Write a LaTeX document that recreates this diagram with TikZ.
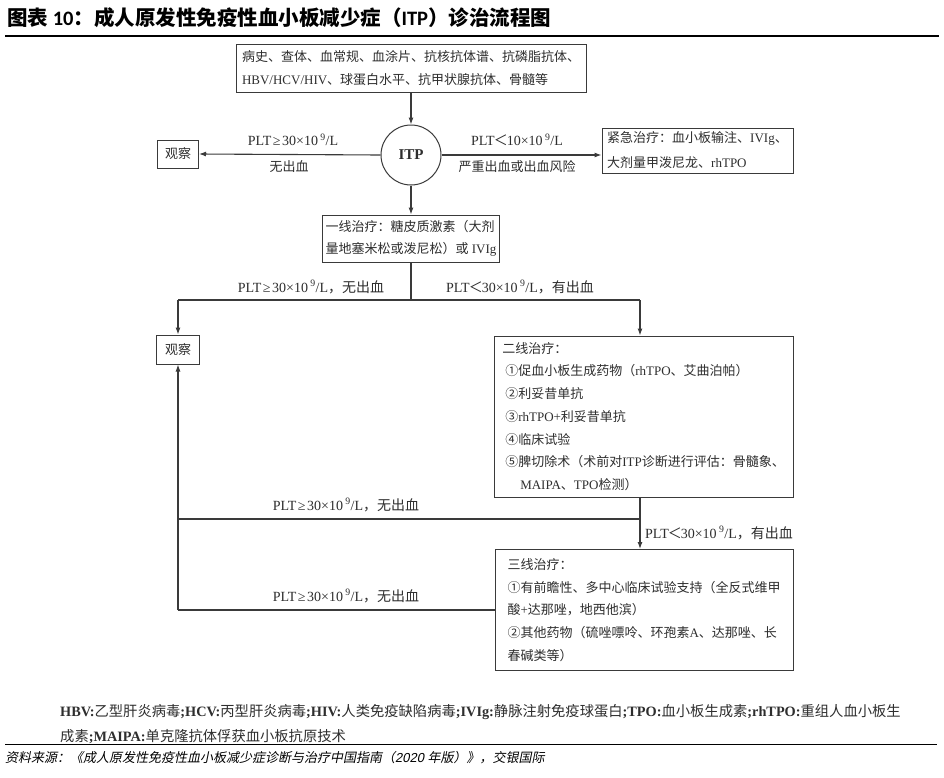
\documentclass[tikz,border=0pt]{standalone}
\usepackage{fontspec}
\usetikzlibrary{arrows.meta}
\setmainfont{Liberation Serif}
\newfontfamily\zhfont{Noto Sans CJK SC}
\newfontfamily\zhslfont[FakeSlant=0.2]{Noto Sans CJK SC}
\newfontfamily\enslfont[FakeSlant=0.2]{Liberation Sans}
\newfontfamily\carlito{Carlito}
% automatic switching between Latin and CJK fonts
\newXeTeXintercharclass\cjkcls
\newcount\chcnt
\def\setcjkrange#1#2{\chcnt=#1\relax\loop\XeTeXcharclass\chcnt=\cjkcls\relax\ifnum\chcnt<#2\relax\advance\chcnt by 1\repeat}
\setcjkrange{"4E00}{"9FFF}
\setcjkrange{"3000}{"303F}
\setcjkrange{"FF00}{"FFEF}
\setcjkrange{"2460}{"24FF}
\def\zhsw{\zhfont}
\def\ensw{\rmfamily}
\XeTeXinterchartoks 0 \cjkcls = {\zhsw}
\XeTeXinterchartoks 4095 \cjkcls = {\zhsw}
\XeTeXinterchartoks \cjkcls 0 = {\ensw}
\XeTeXinterchartoks \cjkcls 4095 = {\ensw}
\XeTeXinterchartokenstate=1
\definecolor{linec}{HTML}{3A3A3A}
\definecolor{txtc}{HTML}{2E2E2E}
\newcommand\mygeq{\hspace{1.5pt}≥\hspace{1.5pt}}
\newcommand\mylt{\hspace{-1pt}＜\hspace{-1pt}}
\tikzset{
  box/.style={draw=linec, line width=1pt, inner sep=0pt, align=left,
    font=\fontsize{13}{22.7}\selectfont, text=txtc},
  lbl/.style={inner sep=0pt, font=\fontsize{14}{16}\selectfont, text=txtc},
  arr/.style={draw=linec, line width=1.1pt, -{Latex[length=7pt,width=5pt]}},
  ln/.style={draw=linec, line width=1.1pt},
}
\begin{document}
\begin{tikzpicture}[x=1pt,y=-1pt]
\useasboundingbox[fill=white] (0,0) rectangle (944,777);
% title
\node[anchor=west, inner sep=0pt, text=black] (title) at (7,18)
  {\fontsize{20.5}{24}\selectfont\bfseries\def\ensw{\carlito}图表 10：成人原发性免疫性血小板减少症（ITP）诊治流程图};
\coordinate (r1a) at (5,36); \coordinate (r1b) at (939,36);
\draw[line width=1.5pt] (r1a) -- (r1b);

% nodes
\node[box, minimum width=350, minimum height=48] (top) at (411,68)
  {病史、查体、血常规、血涂片、抗核抗体谱、抗磷脂抗体、\\HBV/HCV/HIV、球蛋白水平、抗甲状腺抗体、骨髓等};
\node[circle, draw=linec, line width=1pt, minimum size=60pt, inner sep=0pt,
  font=\fontsize{15}{16}\selectfont\bfseries, text=txtc] (itp) at (411,155) {ITP};
\node[box, minimum width=41, minimum height=28] (obs1) at (178,154) {观察};
\node[box, minimum width=191, minimum height=45, font=\fontsize{13}{25}\selectfont] (emg) at (697.5,150.5)
  {紧急治疗：血小板输注、IVIg、\\大剂量甲泼尼龙、rhTPO};
\node[box, minimum width=177, minimum height=47, font=\fontsize{13}{22}\selectfont] (first) at (411,238.5)
  {一线治疗：糖皮质激素（大剂\\量地塞米松或泼尼松）或 IVIg};
\node[box, minimum width=43, minimum height=29] (obs2) at (178,349.5) {观察};
\node[box, minimum width=299, minimum height=161] (second) at (643.5,416.5)
  {二线治疗：\\
   \hspace*{3pt}①促血小板生成药物（rhTPO、艾曲泊帕）\\
   \hspace*{3pt}②利妥昔单抗\\
   \hspace*{3pt}③rhTPO+利妥昔单抗\\
   \hspace*{3pt}④临床试验\\
   \hspace*{3pt}⑤脾切除术（术前对ITP诊断进行评估：骨髓象、\\
   \hspace*{18pt}MAIPA、TPO检测）};
\node[box, minimum width=298, minimum height=121] (third) at (644,610)
  {三线治疗：\\
   ①有前瞻性、多中心临床试验支持（全反式维甲\\
   酸+达那唑，地西他滨）\\
   ②其他药物（硫唑嘌呤、环孢素A、达那唑、长\\
   春碱类等）};

% connectors
\draw[arr] (top) -- (itp);
\draw[arr] (itp.west) -- (obs1.east);
\draw[arr] (itp.east) -- (itp.east -| emg.west);
\draw[arr] (itp) -- (first);
\coordinate (j1) at (411,300);
\coordinate (jl) at (178,300);
\coordinate (jr) at (640,300);
\draw[ln] (first.south) -- (j1);
\draw[ln] (jl) -- (jr);
\draw[arr] (jl) -- (jl |- obs2.north);
\draw[arr] (jr) -- (jr |- second.north);
\coordinate (j2) at (640,519);
\coordinate (l2) at (178,519);
\coordinate (l3) at (third.west -| jl);
\draw[arr] (jr |- second.south) -- (jr |- third.north);
\draw[ln] (j2) -- (l2);
\draw[ln] (third.west) -- (l3);
\draw[arr] (l3) -- (obs2.south);

% labels
\node[lbl] (t1a) at (293,140) {PLT\mygeq 30×10\,\textsuperscript{9}/L};
\node[lbl, font=\fontsize{13}{16}\selectfont] (t1b) at (289,167) {无出血};
\node[lbl] (t2a) at (517,140) {PLT\mylt 10×10\,\textsuperscript{9}/L};
\node[lbl, font=\fontsize{13}{16}\selectfont] (t2b) at (517,167) {严重出血或出血风险};
\node[lbl] (t3) at (311,287) {PLT\mygeq 30×10\,\textsuperscript{9}/L，无出血};
\node[lbl] (t4) at (520,287) {PLT\mylt 30×10\,\textsuperscript{9}/L，有出血};
\node[lbl] (t5) at (346,505) {PLT\mygeq 30×10\,\textsuperscript{9}/L，无出血};
\node[lbl, anchor=west] (t6) at (645,533) {PLT\mylt 30×10\,\textsuperscript{9}/L，有出血};
\node[lbl] (t7) at (346,596) {PLT\mygeq 30×10\,\textsuperscript{9}/L，无出血};

% footer
\node[anchor=west, inner sep=0pt, font=\fontsize{14.3}{18}\selectfont, text=txtc] (f1) at (60,712)
  {\def\zhsw{\zhfont\mdseries}\def\ensw{\rmfamily\bfseries}\bfseries HBV:乙型肝炎病毒;HCV:丙型肝炎病毒;HIV:人类免疫缺陷病毒;IVIg:静脉注射免疫球蛋白;TPO:血小板生成素;rhTPO:重组人血小板生};
\node[anchor=west, inner sep=0pt, font=\fontsize{14.3}{18}\selectfont, text=txtc] (f2) at (60,737)
  {\def\zhsw{\zhfont\mdseries}\def\ensw{\rmfamily\bfseries}成素;MAIPA:单克隆抗体俘获血小板抗原技术};
\coordinate (r2a) at (5,744); \coordinate (r2b) at (937,744);
\draw[line width=1pt] (r2a) -- (r2b);
\node[anchor=west, inner sep=0pt, font=\fontsize{13}{16}\selectfont, text=black] (src) at (5,758)
  {\def\zhsw{\zhslfont}\def\ensw{\enslfont}资料来源：《成人原发性免疫性血小板减少症诊断与治疗中国指南（2020 年版）》，交银国际};
\end{tikzpicture}
\end{document}
